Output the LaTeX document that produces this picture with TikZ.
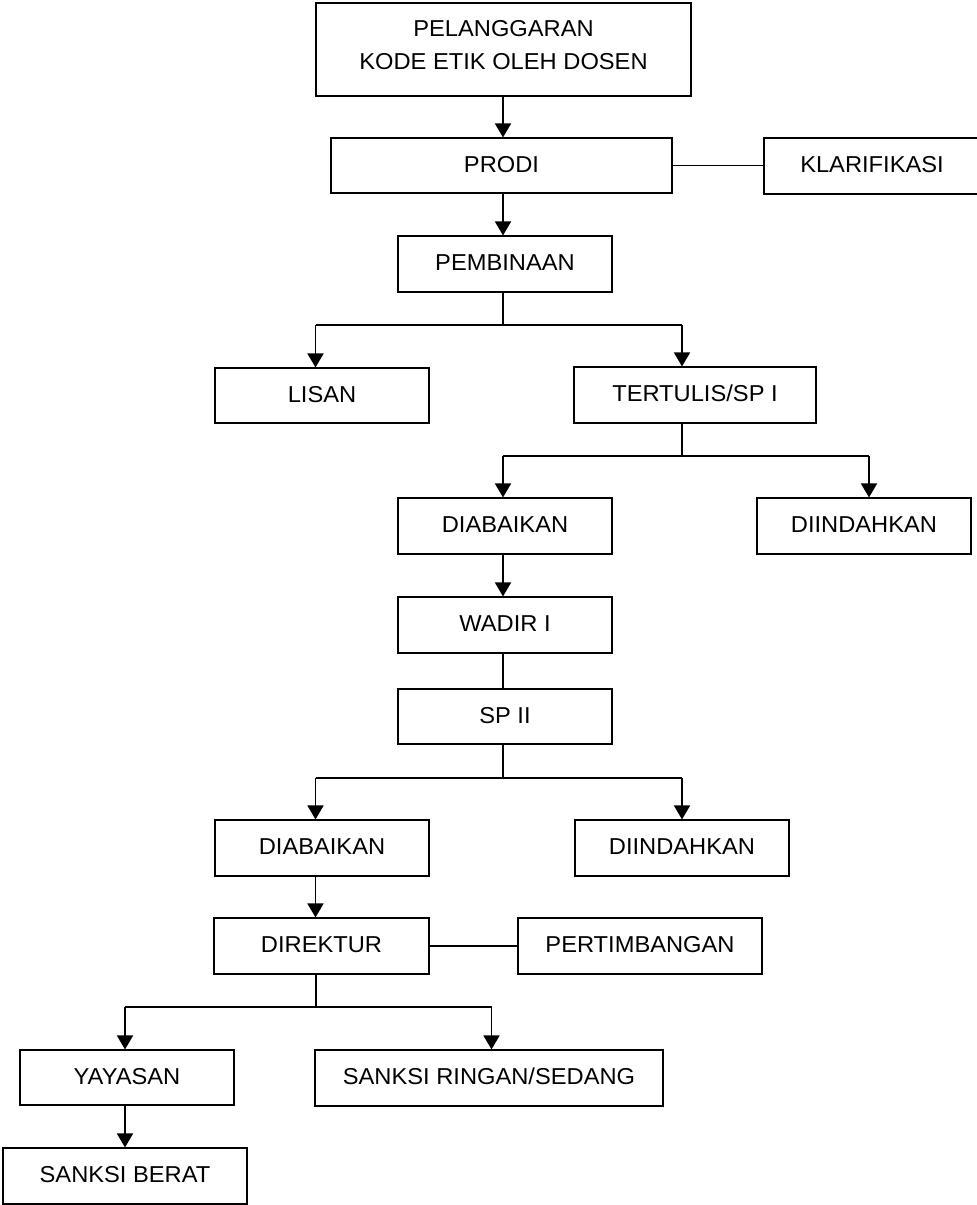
\documentclass[tikz,border=0pt]{standalone}
\usepackage{fontspec}
\setmainfont{Liberation Sans}[FakeStretch=1.03]
\usetikzlibrary{arrows.meta}
\begin{document}
\begin{tikzpicture}[x=1pt,y=-1pt,
  boxbase/.style={draw, line width=1.1pt, inner sep=0pt, font=\fontsize{23}{33}\selectfont, minimum height=56},
  boxnode/.style={boxbase, text height=16.6pt, text depth=3.5pt},
  ln/.style={line width=1.1pt, line cap=square},
  arr/.style={line width=1.7pt, -{Triangle[width=16pt,length=14pt]}}]
\useasboundingbox (0,0) rectangle (977,1205);
% columns and junctions
\coordinate (c503) at (503,0);
\coordinate (c315) at (315.5,0);
\coordinate (c316) at (316,0);
\coordinate (c682) at (682,0);
\coordinate (c869) at (869,0);
\coordinate (c125) at (125,0);
\coordinate (c491) at (491.5,0);
\coordinate (j1) at (503,325);
\coordinate (j2) at (682,456);
\coordinate (j3) at (503,778);
\coordinate (j4) at (316,1007);
% boxes
\node[boxbase, minimum width=375, minimum height=93] (pel) at (503.5,49.5)
  {\raisebox{3.6pt}[\height][\depth]{\begin{tabular}{@{}c@{}}PELANGGARAN\\KODE ETIK OLEH DOSEN\end{tabular}}};
\node[boxnode, minimum width=341, minimum height=55] (prodi) at (501.5,165.5) {PRODI};
\node[boxnode, minimum width=216] (klar) at (872,166) {KLARIFIKASI};
\node[boxnode, minimum width=214] (pemb) at (505,264) {PEMBINAAN};
\node[boxnode, minimum width=214, minimum height=55] (lisan) at (322,395.5) {LISAN};
\node[boxnode, minimum width=242] (tert) at (695,395) {TERTULIS/SP I};
\node[boxnode, minimum width=214] (diab1) at (505,526) {DIABAIKAN};
\node[boxnode, minimum width=214] (diin1) at (864,526) {DIINDAHKAN};
\node[boxnode, minimum width=214] (wadir) at (505,625) {WADIR I};
\node[boxnode, minimum width=214, minimum height=55] (sp2) at (505,716.5) {SP II};
\node[boxnode, minimum width=214] (diab2) at (322,848) {DIABAIKAN};
\node[boxnode, minimum width=214] (diin2) at (682,848) {DIINDAHKAN};
\node[boxnode, minimum width=215] (direk) at (321.5,946) {DIREKTUR};
\node[boxnode, minimum width=244] (pert) at (640,946) {PERTIMBANGAN};
\node[boxnode, minimum width=214, minimum height=55] (yay) at (127,1077.5) {YAYASAN};
\node[boxnode, minimum width=348] (ringan) at (489,1078) {SANKSI RINGAN/SEDANG};
\node[boxnode, minimum width=244] (berat) at (125,1176) {SANKSI BERAT};
% connectors
\draw[arr] (c503 |- pel.south) -- (c503 |- prodi.north);
\draw[ln] (prodi.east) -- (prodi.east -| klar.west);
\draw[arr] (c503 |- prodi.south) -- (c503 |- pemb.north);
\draw[ln] (c503 |- pemb.south) -- (j1);
\draw[ln] (c315 |- j1) -- (c682 |- j1);
\draw[arr] (c315 |- j1) -- (c315 |- lisan.north);
\draw[arr] (c682 |- j1) -- (c682 |- tert.north);
\draw[ln] (c682 |- tert.south) -- (j2);
\draw[ln] (c503 |- j2) -- (c869 |- j2);
\draw[arr] (c503 |- j2) -- (c503 |- diab1.north);
\draw[arr] (c869 |- j2) -- (c869 |- diin1.north);
\draw[arr] (c503 |- diab1.south) -- (c503 |- wadir.north);
\draw[ln] (c503 |- wadir.south) -- (c503 |- sp2.north);
\draw[ln] (c503 |- sp2.south) -- (j3);
\draw[ln] (c315 |- j3) -- (c682 |- j3);
\draw[arr] (c315 |- j3) -- (c315 |- diab2.north);
\draw[arr] (c682 |- j3) -- (c682 |- diin2.north);
\draw[arr] (c315 |- diab2.south) -- (c315 |- direk.north);
\draw[ln] (direk.east) -- (direk.east -| pert.west);
\draw[ln] (c316 |- direk.south) -- (j4);
\draw[ln] (c125 |- j4) -- (c491 |- j4);
\draw[arr] (c125 |- j4) -- (c125 |- yay.north);
\draw[arr] (c491 |- j4) -- (c491 |- ringan.north);
\draw[arr] (c125 |- yay.south) -- (c125 |- berat.north);
\end{tikzpicture}
\end{document}
